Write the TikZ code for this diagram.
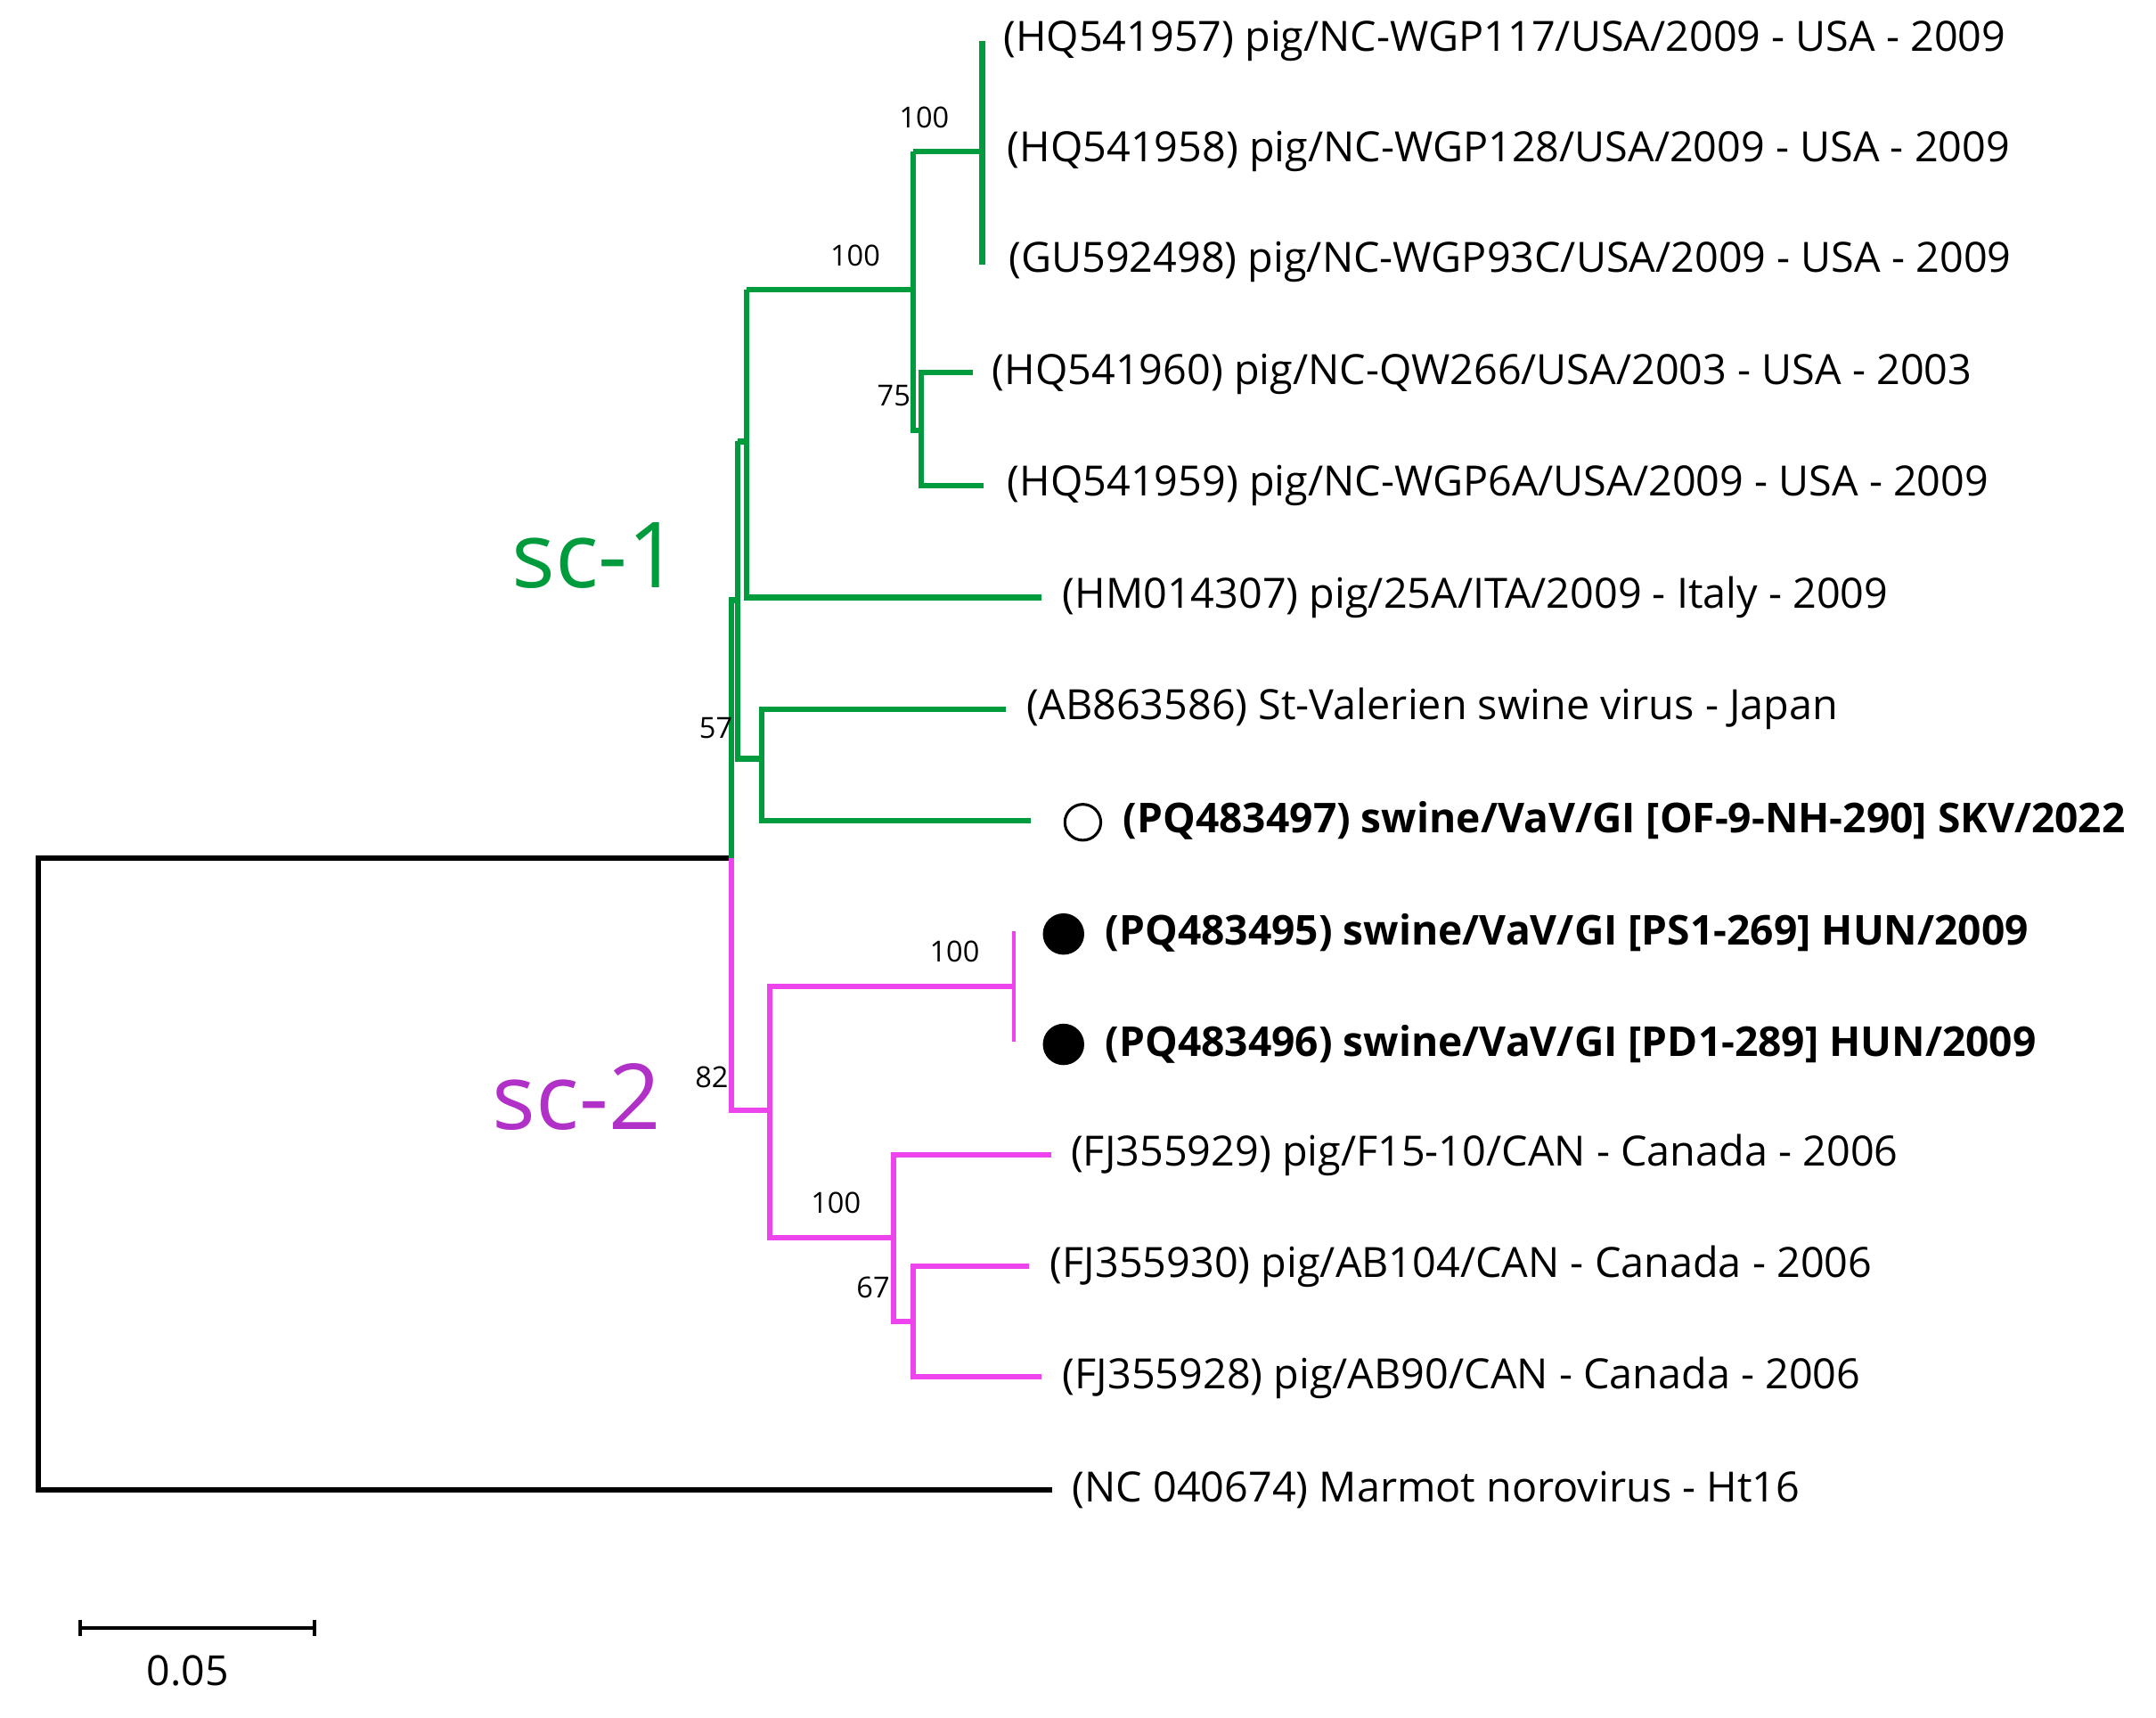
\documentclass[tikz,border=0pt]{standalone}
\usepackage{fontspec}
\setmainfont{Open Sans}
\definecolor{gr}{RGB}{0,155,60}
\definecolor{mg}{RGB}{238,68,238}
\definecolor{sctwo}{RGB}{176,48,200}
\begin{document}
\begin{tikzpicture}[x=0.5pt,y=-0.5pt,
 br/.style={line width=2pt},
 lf/.style={anchor=west,font=\fontsize{15.1}{17}\selectfont,inner sep=0pt},
 lfb/.style={anchor=west,font=\fontsize{14.9}{17}\selectfont\bfseries,inner sep=0pt},
 bs/.style={font=\fontsize{10.5}{12}\selectfont,inner sep=0pt}]
\useasboundingbox[fill=white] (0,0) rectangle (1563,1245);
% root
\draw[br,black] (530,622) -- (28,622) -- (28,1080) -- (763,1080);
% sc-1 green
\begin{scope}[br,gr]
\draw (530,622) -- (530,435) -- (535,435);
\draw (541,210) -- (541,433) -- (755,433);
\draw (535,320) -- (541,320);
\draw (535,320) -- (535,550) -- (552,550);
\draw (541,210) -- (662,210);
\draw (662,110) -- (662,312) -- (668,312);
\draw (662,110) -- (712,110);
\draw (712,30) -- (712,192);
\draw (705,270) -- (668,270) -- (668,352) -- (713,352);
\draw (729,514) -- (552,514) -- (552,595) -- (747,595);
\end{scope}
% sc-2 magenta
\begin{scope}[br,mg]
\draw (530,622) -- (530,805) -- (558,805);
\draw (735,715) -- (558,715) -- (558,897) -- (648,897);
\draw[line width=1pt] (735,675) -- (735,755);
\draw (762,837) -- (648,837) -- (648,958) -- (662,958);
\draw (746,918) -- (662,918) -- (662,998) -- (755,998);
\end{scope}
% leaves
\node[lf] (l1) at (727,30) {(HQ541957) pig/NC-WGP117/USA/2009 - USA - 2009};
\node[lf] (l2) at (730,110) {(HQ541958) pig/NC-WGP128/USA/2009 - USA - 2009};
\node[lf] (l3) at (731,190) {(GU592498) pig/NC-WGP93C/USA/2009 - USA - 2009};
\node[lf] (l4) at (719,271) {(HQ541960) pig/NC-QW266/USA/2003 - USA - 2003};
\node[lf] (l5) at (730,352) {(HQ541959) pig/NC-WGP6A/USA/2009 - USA - 2009};
\node[lf] (l6) at (770,433) {(HM014307) pig/25A/ITA/2009 - Italy - 2009};
\node[lf] (l7) at (744,514) {(AB863586) St-Valerien swine virus - Japan};
\node[lfb] (l8) at (814,595) {(PQ483497) swine/VaV/GI [OF-9-NH-290] SKV/2022};
\node[lfb] (l9) at (801,676) {(PQ483495) swine/VaV/GI [PS1-269] HUN/2009};
\node[lfb] (l10) at (801,757) {(PQ483496) swine/VaV/GI [PD1-289] HUN/2009};
\node[lf] (l11) at (776,837) {(FJ355929) pig/F15-10/CAN - Canada - 2006};
\node[lf] (l12) at (761,918) {(FJ355930) pig/AB104/CAN - Canada - 2006};
\node[lf] (l13) at (770,999) {(FJ355928) pig/AB90/CAN - Canada - 2006};
\node[lf] (l14) at (777,1080) {(NC 040674) Marmot norovirus - Ht16};
% markers
\node[circle,draw=black,line width=1pt,minimum size=13pt,inner sep=0pt] (m1) at (785,596) {};
\node[circle,fill=black,minimum size=15pt,inner sep=0pt] (m2) at (771,677) {};
\node[circle,fill=black,minimum size=15pt,inner sep=0pt] (m3) at (771,757) {};
% bootstrap
\node[bs] (b1) at (670,85) {100};
\node[bs] (b2) at (620,185) {100};
\node[bs] (b3) at (648,287) {75};
\node[bs] (b4) at (519,528) {57};
\node[bs] (b5) at (516,781) {82};
\node[bs] (b6) at (692,690) {100};
\node[bs] (b7) at (606,872) {100};
\node[bs] (b8) at (633,933) {67};
% clade labels
\node[gr,font=\fontsize{33}{36}\selectfont] (c1) at (432,403) {sc-1};
\node[sctwo,font=\fontsize{33}{36}\selectfont] (c2) at (418,795) {sc-2};
% scale
\draw[line width=1.2pt] (58,1174) -- (58,1186) (58,1180) -- (228,1180) (228,1174) -- (228,1186);
\node[font=\fontsize{15}{17}\selectfont] (sc) at (136,1211) {0.05};
\end{tikzpicture}
\end{document}
